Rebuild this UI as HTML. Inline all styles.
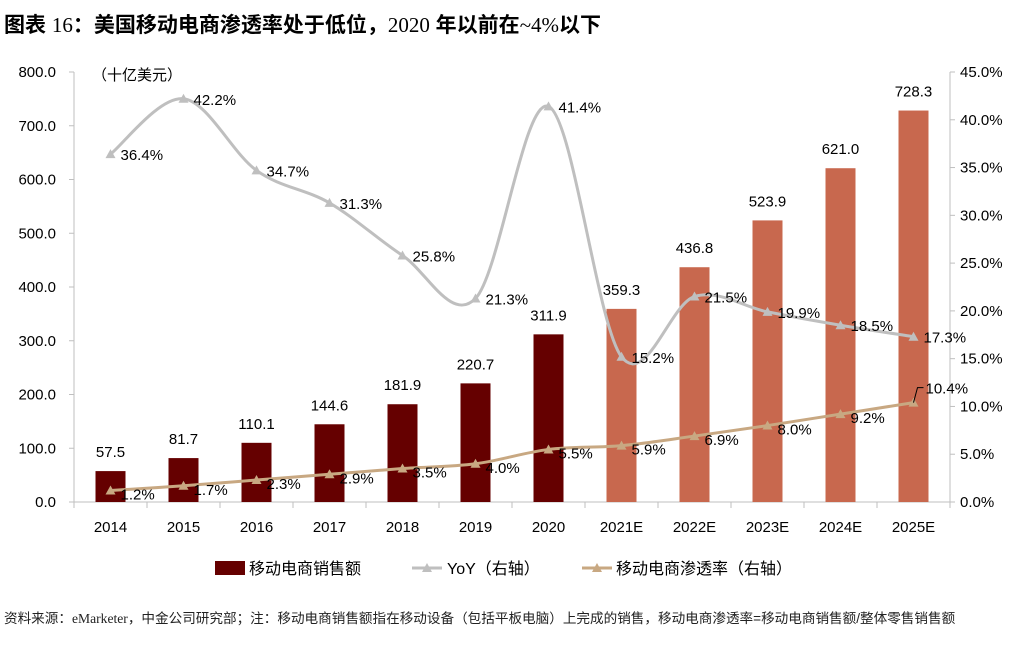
<!DOCTYPE html>
<html><head><meta charset="utf-8"><style>
body{margin:0;background:#fff;width:1015px;height:640px;overflow:hidden;font-family:"Liberation Sans","Noto Sans CJK SC",sans-serif}
svg text{font-family:"Liberation Sans","Noto Sans CJK SC",sans-serif}
</style></head><body>
<svg id="c" width="1015" height="640">
<text x="4" y="32" font-size="21" font-weight="bold" fill="#000">图表 <tspan font-family="Liberation Serif" font-weight="normal">16</tspan>：美国移动电商渗透率处于低位，<tspan font-family="Liberation Serif" font-weight="normal">2020</tspan> 年以前在<tspan font-family="Liberation Serif" font-weight="normal">~4%</tspan>以下</text>
<text x="92" y="80" font-size="15">（十亿美元）</text>
<text x="4" y="623" font-size="13.6" fill="#222">资料来源：<tspan font-family="Liberation Serif">eMarketer</tspan>，中金公司研究部；注：移动电商销售额指在移动设备（包括平板电脑）上完成的销售，移动电商渗透率=移动电商销售额/整体零售销售额</text>
<g id="g"></g>
</svg>
<script>
const categories=["2014","2015","2016","2017","2018","2019","2020","2021E","2022E","2023E","2024E","2025E"];
const sales=[57.5,81.7,110.1,144.6,181.9,220.7,311.9,359.3,436.8,523.9,621.0,728.3];
const yoy=[36.4,42.2,34.7,31.3,25.8,21.3,41.4,15.2,21.5,19.9,18.5,17.3];
const pen=[1.2,1.7,2.3,2.9,3.5,4.0,5.5,5.9,6.9,8.0,9.2,10.4];
const leftTicks=[0,100,200,300,400,500,600,700,800];
const rightTicks=[0,5,10,15,20,25,30,35,40,45];
const NS="http://www.w3.org/2000/svg";
const g=document.getElementById('g');
const L=74,R=950,T=72,B=502;
const yL=v=>B-(v/800)*(B-T);
const yR=v=>B-(v/45)*(B-T);
const bw=(R-L)/categories.length;
const xC=i=>L+bw*(i+0.5);
function mk(t,a,p){const e=document.createElementNS(NS,t);for(const k in a)e.setAttribute(k,a[k]);(p||g).appendChild(e);return e;}
let e=mk('line',{x1:L,y1:T,x2:L,y2:B,stroke:'#bfbfbf'});

e=mk('line',{x1:R,y1:T,x2:R,y2:B,stroke:'#bfbfbf'});

e=mk('line',{x1:L,y1:B,x2:R,y2:B,stroke:'#bfbfbf'});

leftTicks.forEach(v=>{mk('line',{x1:L-5,y1:yL(v),x2:L,y2:yL(v),stroke:'#bfbfbf'});
 e=mk('text',{x:L-18,y:yL(v)+5,'font-size':15,'text-anchor':'end'});e.textContent=v.toFixed(1);
 });
rightTicks.forEach(v=>{mk('line',{x1:R,y1:yR(v),x2:R+5,y2:yR(v),stroke:'#bfbfbf'});
 e=mk('text',{x:R+10,y:yR(v)+5,'font-size':15});e.textContent=v.toFixed(1)+'%';
 });
for(let i=0;i<=categories.length;i++)mk('line',{x1:L+bw*i,y1:B,x2:L+bw*i,y2:B+6,stroke:'#bfbfbf'});
categories.forEach((c,i)=>{e=mk('text',{x:xC(i),y:B+30,'font-size':15,'text-anchor':'middle'});e.textContent=c;
 });
sales.forEach((v,i)=>{e=mk('rect',{x:xC(i)-15,y:yL(v),width:30,height:B-yL(v),fill:i<7?'#650000':'#C8684E'});
 
 e=mk('text',{x:xC(i),y:yL(v)-14,'font-size':15,'text-anchor':'middle'});e.textContent=v.toFixed(1);
 });
function smooth(pts){let d='M'+pts[0][0]+','+pts[0][1];
 for(let i=0;i<pts.length-1;i++){const p0=pts[Math.max(i-1,0)],p1=pts[i],p2=pts[i+1],p3=pts[Math.min(i+2,pts.length-1)];
  d+=` C${p1[0]+(p2[0]-p0[0])/6},${p1[1]+(p2[1]-p0[1])/6} ${p2[0]-(p3[0]-p1[0])/6},${p2[1]-(p3[1]-p1[1])/6} ${p2[0]},${p2[1]}`;}return d;}
function tri(x,y,c){return mk('path',{d:`M${x},${y-5}L${x+5},${y+4}L${x-5},${y+4}Z`,fill:c});}
const yp=yoy.map((v,i)=>[xC(i),yR(v)]);
e=mk('path',{d:smooth(yp),fill:'none',stroke:'#bfbfbf','stroke-width':3});

yp.forEach((p,i)=>{e=tri(p[0],p[1],'#bfbfbf');
 e=mk('text',{x:p[0]+10,y:p[1]+6,'font-size':15});e.textContent=yoy[i].toFixed(1)+'%';
 });
const pp=pen.map((v,i)=>[xC(i),yR(v)]);
e=mk('path',{d:smooth(pp),fill:'none',stroke:'#C8A882','stroke-width':3});

pp.forEach((p,i)=>{e=tri(p[0],p[1],'#C8A882');
 const last=i===pen.length-1;
 if(last)mk('path',{d:`M${p[0]},${p[1]} L${p[0]+4},${p[1]-15} L${p[0]+10},${p[1]-15}`,fill:'none',stroke:'#000'});
 e=mk('text',{x:p[0]+(last?12:10),y:p[1]+(last?-9:9),'font-size':15});e.textContent=pen[i].toFixed(1)+'%';
 });
e=mk('rect',{x:215,y:561,width:30,height:14,fill:'#650000'});
e=mk('text',{x:249,y:574,'font-size':16});e.textContent='移动电商销售额';
mk('line',{x1:412,y1:568,x2:442,y2:568,stroke:'#bfbfbf','stroke-width':3});tri(427,568,'#bfbfbf');
e=mk('text',{x:447,y:574,'font-size':16});e.textContent='YoY（右轴）';
mk('line',{x1:582,y1:568,x2:612,y2:568,stroke:'#C8A882','stroke-width':3});tri(597,568,'#C8A882');
e=mk('text',{x:616,y:574,'font-size':16});e.textContent='移动电商渗透率（右轴）';
</script>
</body></html>
